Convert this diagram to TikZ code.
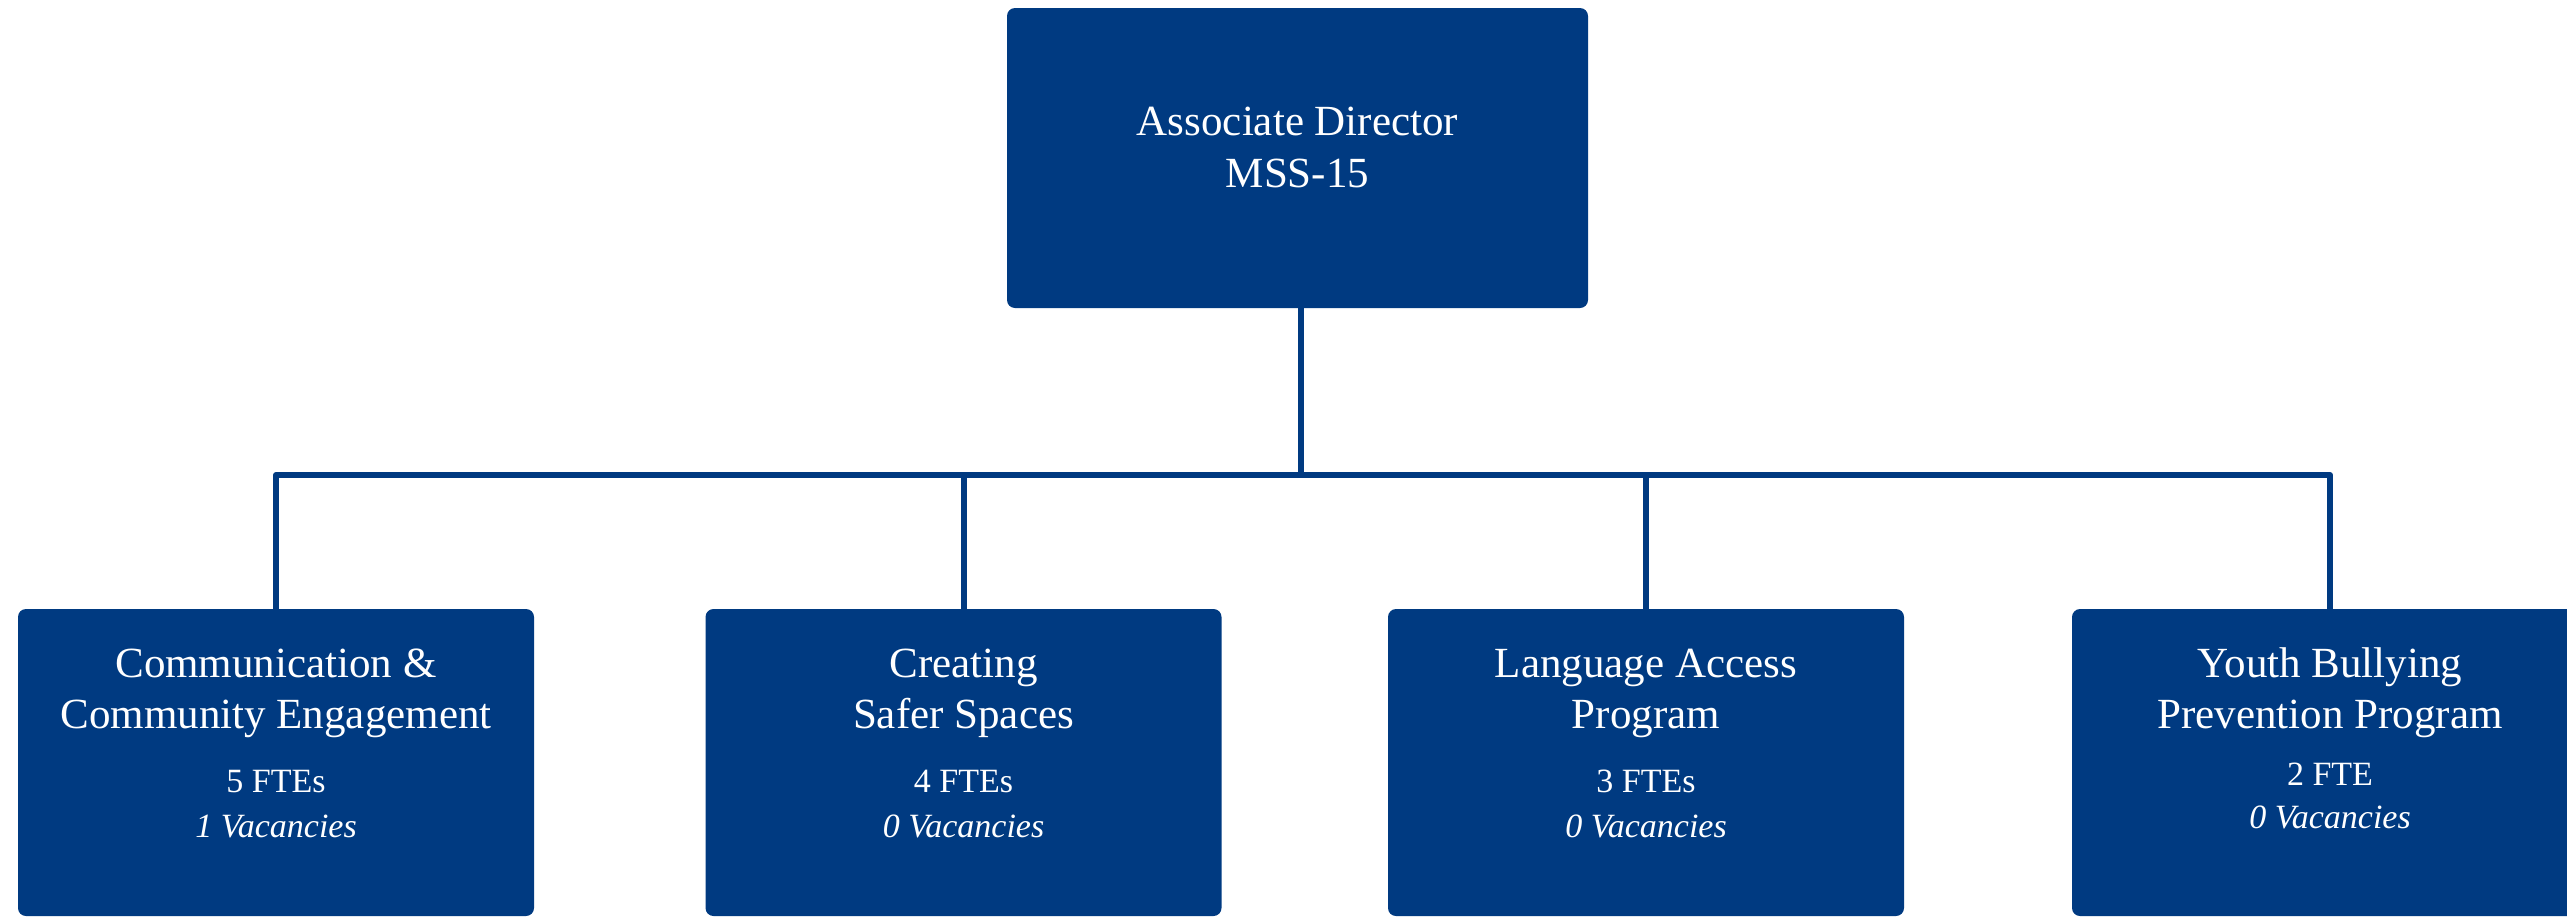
\documentclass[tikz,border=0pt]{standalone}
\usepackage{fontspec}
\setmainfont{Liberation Serif}
\definecolor{navy}{RGB}{0,58,129}
\begin{document}
\begin{tikzpicture}[x=1pt,y=-1pt,
  box/.style={fill=navy, rounded corners=8pt, inner sep=0pt, minimum width=516pt, minimum height=307pt},
  conn/.style={draw=navy, line width=6pt, line join=round},
  ttl/.style={text=white, font=\fontsize{43}{52}\selectfont, anchor=base, inner sep=0pt},
  sub/.style={text=white, font=\fontsize{34}{43}\selectfont, anchor=base, inner sep=0pt}]
\useasboundingbox (0,0) rectangle (2567,916);
\node[box, minimum width=581pt, minimum height=300pt] (top) at (1297.5,158) {};
\node[ttl] (t1) at (1297.5,135) {Associate Director};
\node[ttl] (t2) at (1297.5,187) {MSS-15};
\node[box] (b1) at (276,762.5) {};
\node[box] (b2) at (963.5,762.5) {};
\node[box] (b3) at (1646,762.5) {};
\node[box] (b4) at (2330,762.5) {};
\coordinate (hub) at (1301,475);
\draw[conn] (top.south -| hub) -- (hub);
\draw[conn] (b1.north) -- (b1.north |- hub) -- (b4.north |- hub) -- (b4.north);
\draw[conn] (b2.north) -- (b2.north |- hub);
\draw[conn] (b3.north) -- (b3.north |- hub);
% box 1
\node[ttl] (b1a) at (276,677) {Communication \&};
\node[ttl] (b1b) at (276,728) {Community Engagement};
\node[sub] (b1c) at (276,792) {5 FTEs};
\node[sub] (b1d) at (276,837) {\itshape 1 Vacancies};
% box 2
\node[ttl] (b2a) at (963.5,677) {Creating};
\node[ttl] (b2b) at (963.5,728) {Safer Spaces};
\node[sub] (b2c) at (963.5,792) {4 FTEs};
\node[sub] (b2d) at (963.5,837) {\itshape 0 Vacancies};
% box 3
\node[ttl] (b3a) at (1646,677) {Language Access};
\node[ttl] (b3b) at (1646,728) {Program};
\node[sub] (b3c) at (1646,792) {3 FTEs};
\node[sub] (b3d) at (1646,837) {\itshape 0 Vacancies};
% box 4
\node[ttl] (b4a) at (2330,677) {Youth Bullying};
\node[ttl] (b4b) at (2330,728) {Prevention Program};
\node[sub] (b4c) at (2330,785) {2 FTE};
\node[sub] (b4d) at (2330,828) {\itshape 0 Vacancies};
\end{tikzpicture}
\end{document}
